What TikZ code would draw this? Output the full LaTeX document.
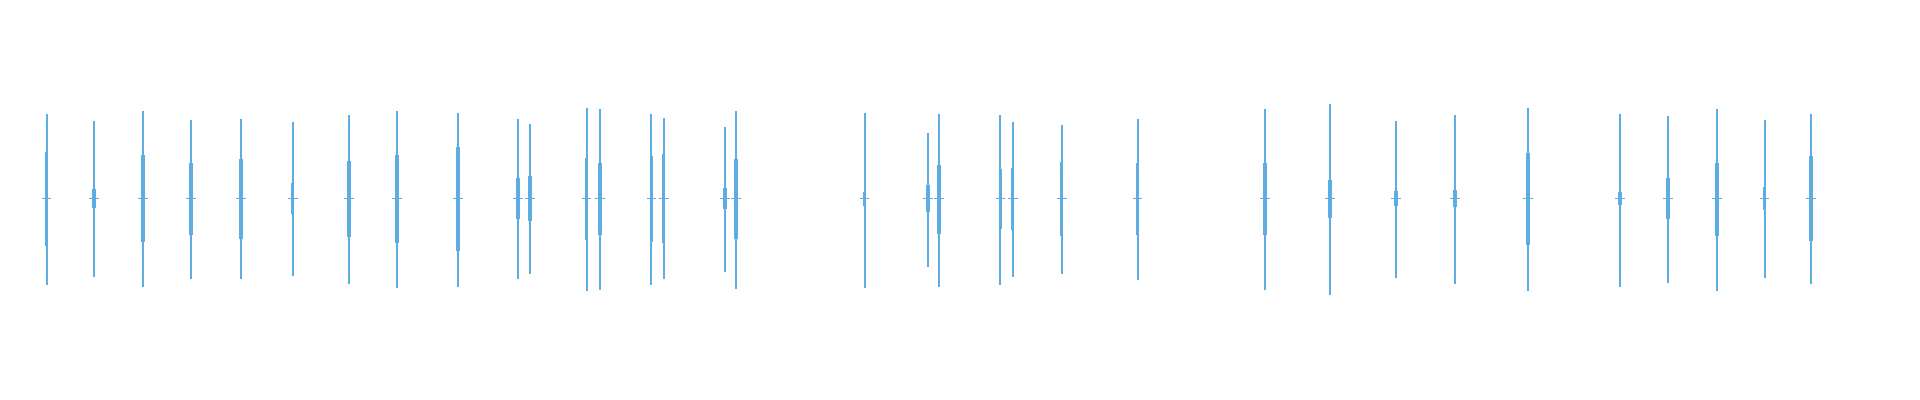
\documentclass[tikz,border=0pt]{standalone}
\definecolor{wave}{RGB}{93,173,226}
\begin{document}
\begin{tikzpicture}[x=0.6122pt,y=-0.6122pt,line cap=butt]
\useasboundingbox (0,0) rectangle (1568,326.6);
\fill[white] (0,0) rectangle (1568,326.6);
\foreach \x/\t/\b/\f in {38/93/233/0.55,77/99/226/0.12,117/91/234/0.5,156/98/228/0.45,197/97/228/0.5,239/100/225/0.2,285/94/232/0.45,324/91/235/0.5,374/92/234/0.6,423/97/228/0.25,433/101/224/0.3,479/88/238/0.45,490/89/237/0.4,532/93/233/0.5,542/96/228/0.55,592/104/222/0.15,601/91/236/0.45,706/92/235/0.08,758/109/218/0.2,767/93/234/0.4,817/94/233/0.35,827/100/226/0.4,867/102/224/0.5,929/97/229/0.45,1033/89/237/0.4,1086/85/241/0.2,1140/99/227/0.1,1188/94/232/0.1,1248/88/238/0.5,1323/93/234/0.08,1362/95/231/0.25,1402/89/238/0.4,1441/98/227/0.15,1479/93/232/0.5}{
  \draw[wave,line width=1.0pt] (\x,\t) -- (\x,\b);
  \draw[wave,line width=1.8pt] (\x,{162-(162-\t)*\f}) -- (\x,{162+(\b-162)*\f});
  \draw[wave,line width=0.8pt] (\x-4,162) -- (\x+4,162);
}
\end{tikzpicture}
\end{document}
